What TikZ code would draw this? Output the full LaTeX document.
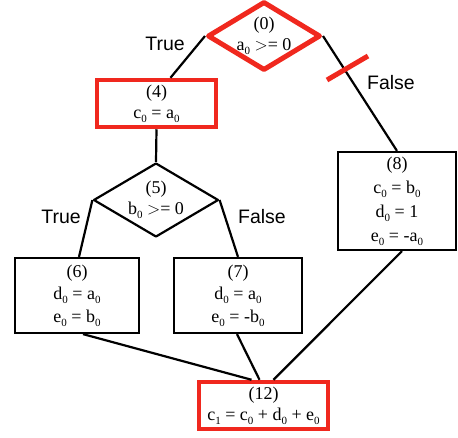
\documentclass[tikz,border=0pt]{standalone}
\usepackage{fontspec}
\setmainfont{Liberation Serif}
\newfontfamily\lblfont{Liberation Sans}
\usetikzlibrary{shapes.geometric}
\newcommand\sbz[1]{\raisebox{-0.45ex}{\fontsize{11}{11}\selectfont #1}}
\definecolor{hired}{RGB}{240,40,30}
\tikzset{
  blk/.style={draw=black, line width=2.2pt, rectangle, inner sep=0pt, align=center,
    font=\fontsize{18}{21}\selectfont},
  redbox/.style={blk, draw=hired, line width=4.5pt},
  dia/.style={draw=black, line width=2.2pt, diamond, inner sep=-8pt, align=center,
    font=\fontsize{18}{21}\selectfont, line join=round},
  reddia/.style={dia, draw=hired, line width=5pt},
  conn/.style={line width=2.2pt, black},
  lbl/.style={font=\lblfont\fontsize{19.5}{22}\selectfont, inner sep=0pt},
}
\begin{document}
\begin{tikzpicture}[x=1pt, y=-1pt]
\useasboundingbox (0,0) rectangle (458,437);
% nodes
\node[reddia, minimum width=113pt, minimum height=69pt] (d0) at (264,36) {(0)\\a\sbz{0} $>$= 0};
\node[redbox, minimum width=119pt, minimum height=47pt] (b4) at (156.5,103.5) {(4)\\c\sbz{0} = a\sbz{0}};
\node[dia, minimum width=125pt, minimum height=74pt] (d5) at (156,200) {(5)\\b\sbz{0} $>$= 0};
\node[blk, minimum width=118pt, minimum height=98pt] (b8) at (397,201) {(8)\\[3pt]c\sbz{0} = b\sbz{0}\\[3pt]d\sbz{0} = 1\\[3pt]e\sbz{0} = -a\sbz{0}};
\node[blk, minimum width=124pt, minimum height=75pt] (b6) at (77,295.5) {(6)\\[1.5pt]d\sbz{0} = a\sbz{0}\\[1.5pt]e\sbz{0} = b\sbz{0}};
\node[blk, minimum width=128pt, minimum height=75pt] (b7) at (238,295.5) {(7)\\[1.5pt]d\sbz{0} = a\sbz{0}\\[1.5pt]e\sbz{0} = -b\sbz{0}};
\node[redbox, minimum width=129pt, minimum height=47pt] (b12) at (263.5,405.5) {(12)\\c\sbz{1} = c\sbz{0} + d\sbz{0} + e\sbz{0}};
% labels
\node[lbl] (t0) at (165,44) {True};
\node[lbl] (f0) at (391,83) {False};
\node[lbl] (t5) at (61,217) {True};
\node[lbl] (f5) at (262,217) {False};
% connectors
\draw[conn] (d0.west) -- ([xshift=14pt]b4.north);
\draw[conn] (d0.east) -- (b8.north);
\draw[conn] (b4.south) -- (d5.north);
\draw[conn] (d5.west) -- ([xshift=2pt]b6.north);
\draw[conn] (d5.east) -- (b7.north);
\draw[conn] ([xshift=6pt]b6.south) -- ([xshift=-12pt]b12.north);
\draw[conn] ([xshift=-1pt]b7.south) -- ([xshift=-4pt]b12.north);
\draw[conn] ([xshift=5pt]b8.south) -- ([xshift=10pt]b12.north);
% red tick on the False branch
\coordinate (k1) at (327,80);
\coordinate (k2) at (368,56);
\draw[hired, line width=5pt] (k1) -- (k2);
\end{tikzpicture}
\end{document}
